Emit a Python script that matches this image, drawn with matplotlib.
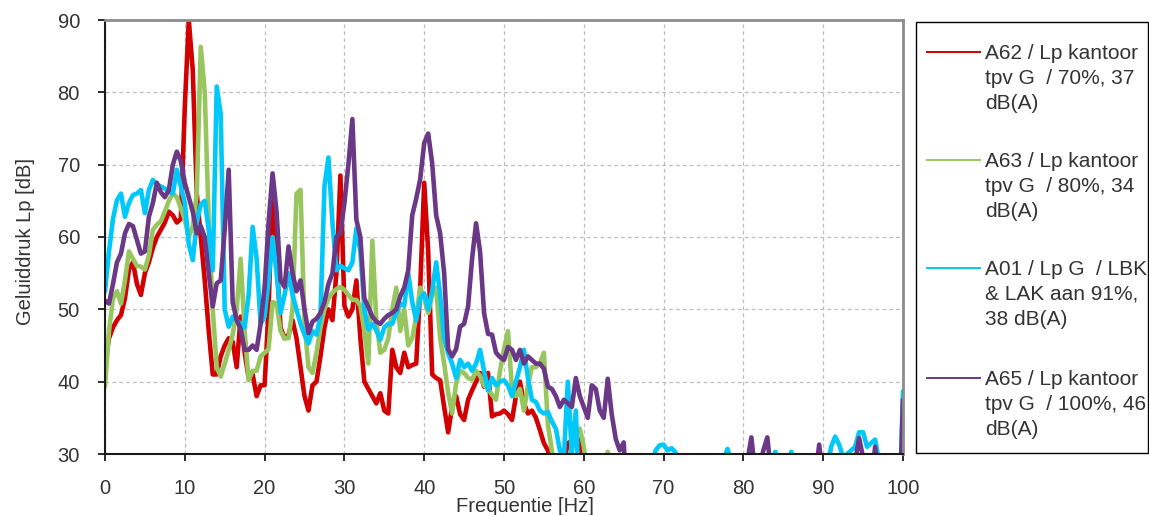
import numpy as np
import matplotlib
matplotlib.use('Agg')
import matplotlib.pyplot as plt
from matplotlib.lines import Line2D
from matplotlib.patches import Rectangle

plt.rcParams['font.family'] = ['Liberation Sans', 'DejaVu Sans']

# ---------------- data (0.5 Hz steps) ----------------
freq = np.arange(0, 100.5, 0.5)

# values below 30 dB just run off the bottom of the axes
lp_a62 = [
    42.5, 46, 47.5, 48.5, 49.2, 51.5, 55.5, 56.5, 53.5, 52,
    55, 56.5, 58.5, 60, 61, 62, 63.5, 63, 62, 62.5,
    78, 90, 83, 66, 60, 54, 47, 41, 41, 43.5,
    45, 46, 45.5, 42, 49, 44, 40.5, 41, 38, 39.5,
    39.5, 50, 67.5, 57, 47.5, 46, 46.5, 48.5, 46, 42,
    38, 36, 39.5, 40, 43.5, 47.5, 50, 48.5, 55, 68.5,
    50.5, 49, 50, 54, 46, 40, 39, 38, 37, 38.4,
    36, 35.6, 44.4, 42, 41.2, 44, 42, 42.3, 42.5, 53,
    67.5, 58, 41, 40.5, 40.2, 36.5, 33, 36.5, 38, 35.5,
    34.7, 37.5, 38.8, 40, 41.2, 39.3, 41.2, 35.2, 35.5, 35.6,
    36, 35.5, 34.7, 38, 40, 37, 35.6, 36, 35, 33.3,
    31.5, 30.5, 28, 24, 24, 28, 31.5, 31.8, 31.5, 32,
    27, 20, 20, 20, 20, 20, 20, 20, 20, 20,
    20, 20, 20, 20, 20, 20, 20, 20, 20, 20,
    20, 20, 20, 20, 20, 20, 20, 20, 20, 20,
    20, 20, 20, 20, 20, 20, 20, 20, 20, 20,
    20, 20, 20, 20, 20, 20, 20, 20, 20, 20,
    20, 20, 20, 20, 20, 20, 20, 20, 20, 20,
    20, 20, 20, 20, 20, 20, 20, 20, 20, 20,
    20, 20, 20, 20, 20, 20, 20, 20, 20, 20,
    20,
]

lp_a63 = [
    39.3, 47, 51.5, 52.5, 50.8, 54, 58, 57, 56, 55.9,
    55.5, 57.5, 61, 61.7, 62.2, 63.5, 65, 66, 65.5, 64,
    62.4, 60, 61.5, 66, 86.3, 80, 62, 50, 42, 40.7,
    42.5, 44.4, 46.5, 50, 57, 47, 40.2, 41.5, 41.5, 43.5,
    44, 44.5, 51, 50.8, 47, 46, 46, 50, 66, 66.5,
    48, 42, 41.2, 44, 47.5, 50, 51.5, 52.3, 52.8, 53.1,
    52.7, 52, 51.3, 51.3, 50.5, 47, 42.5, 59.5, 48.5, 44,
    44.4, 46, 50, 53, 47, 50, 45, 46, 49, 53,
    51.5, 49.5, 52, 53, 46, 42.5, 38.5, 35.6, 39.8, 41.5,
    41.2, 40.5, 40.3, 41.5, 40.8, 39.5, 39, 38.2, 37.5, 41.5,
    44.5, 47, 39, 38, 39, 36, 39.5, 42, 42, 42.5,
    44, 34, 30.5, 26, 24, 26, 29, 31, 32.5, 33.5,
    31, 27, 22, 22, 22, 28, 30.3, 27, 22, 20,
    20, 20, 20, 20, 20, 20, 20, 20, 20, 20,
    20, 20, 20, 20, 20, 20, 20, 20, 20, 20,
    20, 20, 20, 20, 20, 20, 20, 20, 20, 20,
    20, 20, 20, 20, 20, 20, 20, 20, 20, 20,
    20, 20, 20, 20, 20, 20, 20, 20, 20, 20,
    20, 20, 20, 20, 20, 20, 20, 20, 20, 20,
    20, 20, 20, 20, 20, 20, 20, 20, 20, 20,
    20,
]

lp_a01 = [
    52.5, 58, 62.5, 65.1, 66, 62.8, 64.7, 65.8, 66, 66.5,
    63.3, 66.5, 67.9, 67.2, 67, 66.7, 66.3, 66, 69.3, 67,
    64.7, 59, 56.8, 62, 64.5, 65, 61, 55.4, 80.8, 77,
    50, 47.6, 49, 48.5, 48, 47.5, 52, 61.4, 57, 48,
    49, 54, 60, 55, 49.5, 52, 55, 52, 50, 48,
    46.5, 45.3, 47, 46.5, 49, 67, 71, 62, 55.4, 56,
    55.7, 55.4, 56.5, 61.2, 58, 50, 47.2, 48, 47.1, 45.8,
    47.5, 48, 48, 49.5, 50.8, 50.5, 55, 51, 48.5, 51.5,
    52.2, 50, 52.5, 56.5, 52, 46, 43.9, 42.5, 40.5, 43,
    42, 42.5, 41.5, 42.5, 44.4, 41.5, 38.8, 40.5, 39.5, 40,
    40.2, 39.5, 38, 40, 42, 44.4, 40.5, 37.5, 37.2, 36,
    35.6, 35.8, 34.5, 33.5, 30.5, 29.5, 40, 30, 36, 22,
    20, 20, 20, 20, 20, 20, 20, 20, 20, 20,
    20, 20, 20, 20, 20, 20, 20, 28, 30.5, 31.2,
    31.3, 30.5, 30.8, 30.2, 27, 20, 20, 20, 20, 20,
    20, 20, 20, 20, 20, 29, 30.7, 29, 20, 20,
    20, 20, 20, 20, 20, 20, 20, 28, 30.3, 28,
    20, 28, 30.3, 28, 20, 20, 20, 20, 20, 20,
    20, 28, 31, 32.4, 31.3, 29.5, 30, 30.5, 31, 33,
    33, 31, 31.5, 32, 29, 20, 20, 20, 20, 20,
    38.7,
]

lp_a65 = [
    51.2, 50.8, 53.5, 56.5, 57.7, 60.5, 61.8, 61.5, 59.6, 57.7,
    58, 62.8, 64.7, 67.5, 66.2, 65.5, 66.5, 70, 71.8, 70.5,
    67.5, 65.5, 63.5, 60.5, 61.5, 60, 55, 50.4, 53.6, 54,
    61, 69.3, 51, 48.5, 47.3, 44.4, 44.4, 45, 44.4, 48,
    53, 62, 68.8, 63.5, 54, 53.1, 58.7, 55, 52.5, 54,
    50, 46.7, 48.3, 48.7, 49.5, 51, 53.5, 55, 60, 60.5,
    64.7, 70, 76.3, 62.4, 60, 51.5, 50.3, 49, 48.3, 48,
    48.7, 49.2, 49.5, 50, 51.8, 53, 55.4, 63, 65.3, 68,
    73, 74.3, 70.2, 63, 60.5, 55, 44.5, 43.5, 44.5, 47.6,
    48, 50.4, 57, 61.9, 58, 49.5, 46.6, 46.5, 44, 43.4,
    43, 44.8, 44.4, 43, 44.4, 42.5, 43.5, 43, 42.5, 42.5,
    41.8, 39.3, 39, 38, 36.5, 37.5, 37, 36.5, 40.5, 38,
    36.5, 35, 39.5, 39, 36, 35, 40.4, 35.5, 32.1, 30.5,
    31.6, 22, 20, 20, 20, 20, 20, 20, 20, 20,
    20, 20, 20, 20, 20, 20, 20, 20, 20, 20,
    20, 20, 20, 20, 20, 20, 20, 20, 20, 20,
    22, 29, 32.3, 27, 28, 30.5, 32.3, 27, 20, 20,
    20, 20, 20, 20, 20, 20, 20, 20, 27, 31.3,
    26, 20, 20, 20, 20, 20, 20, 20, 29, 32.2,
    29.5, 20, 25, 31, 25, 20, 20, 20, 20, 20,
    37.5,
]

series = [lp_a62, lp_a63, lp_a01, lp_a65]
labels = [
    'A62 / Lp kantoor\ntpv G  / 70%, 37\ndB(A)',
    'A63 / Lp kantoor\ntpv G  / 80%, 34\ndB(A)',
    'A01 / Lp G  / LBK\n& LAK aan 91%,\n38 dB(A)',
    'A65 / Lp kantoor\ntpv G  / 100%, 46\ndB(A)',
]
colors = ['#D20000', '#98C65E', '#00C8FA', '#6A3886']

TXT = '#333333'
W, H = 1149, 515

# ---------------- figure ----------------
fig = plt.figure(figsize=(W / 100, H / 100), dpi=100)
ax = fig.add_axes([105 / W, 61 / H, 798 / W, 434 / H])

for vals, col in zip(series, colors):
    ax.plot(freq, vals, color=col, lw=3.3, solid_joinstyle='round',
            solid_capstyle='round')

ax.set_xlim(0, 100)
ax.set_ylim(30, 90)
ax.set_xticks(np.arange(0, 101, 10))
ax.set_yticks(np.arange(30, 91, 10))
ax.grid(True, color='#BDBDBD', lw=0.9, ls=(0, (3, 2.5)))
ax.set_axisbelow(True)

for side in ('left', 'bottom'):
    ax.spines[side].set_color('#1a1a1a')
    ax.spines[side].set_linewidth(1.5)
for side in ('top', 'right'):
    ax.spines[side].set_color('#8c8c8c')
    ax.spines[side].set_linewidth(2.0)

ax.tick_params(axis='both', direction='out', length=5, width=1.3,
               color='#1a1a1a', labelsize=14.5, labelcolor=TXT, pad=13)

ax.set_xlabel('Frequentie [Hz]', fontsize=14.5, color=TXT)
ax.xaxis.set_label_coords(0.526, -0.098)
ax.set_ylabel('Geluiddruk Lp [dB]', fontsize=14.5, color=TXT)
ax.yaxis.set_label_coords(-0.088, 0.49)

# ---------------- legend box (Excel style: handle level with first line) ----------------
fig.add_artist(Rectangle((916 / W, 62 / H), 232 / W, 431.5 / H,
                         transform=fig.transFigure, fill=False,
                         edgecolor='black', lw=1.0))
first_line_y = [52, 160, 268, 378]
for lab, col, yp in zip(labels, colors, first_line_y):
    yf = 1 - yp / H
    fig.add_artist(Line2D([927 / W, 980 / W], [yf, yf], transform=fig.transFigure,
                          color=col, lw=1.4))
    fig.text(985 / W, 1 - (yp - 8) / H, lab, fontsize=15, color=TXT, ha='left',
             va='top', linespacing=1.4)

fig.savefig('out.png', dpi=100)
